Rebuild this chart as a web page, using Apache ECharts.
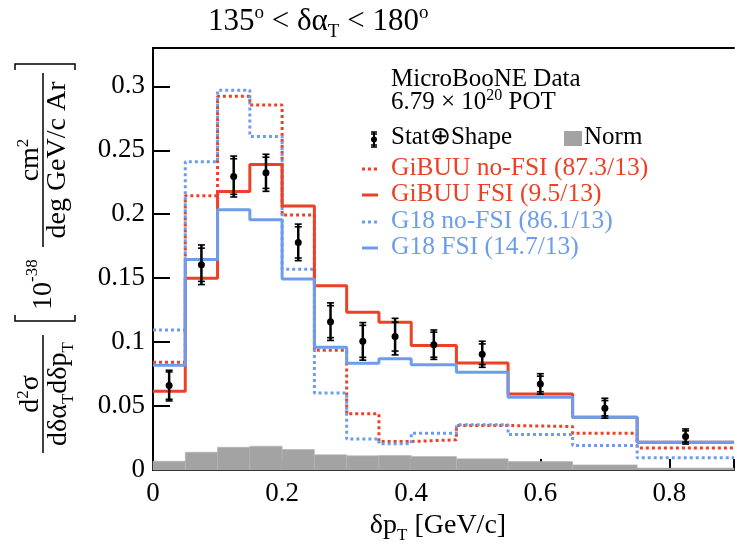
<!DOCTYPE html>
<html><head><meta charset="utf-8">
<script src="https://cdn.jsdelivr.net/npm/echarts@6/dist/echarts.min.js"></script>
<style>html,body{margin:0;padding:0;background:#fff}#c{width:737px;height:556px}</style>
</head><body><div id="c"></div>
<script>
// ---- data ----
const binEdges = [0, 0.05, 0.1, 0.15, 0.2, 0.25, 0.3, 0.35, 0.4, 0.47, 0.55, 0.65, 0.75, 0.9];
const dataY    = [0.066, 0.1605, 0.2295, 0.2324, 0.178, 0.116, 0.1006, 0.1043, 0.098, 0.0905, 0.0673, 0.0483, 0.0262];
const errOuter = [0.012, 0.0155, 0.016, 0.0145, 0.0143, 0.0147, 0.0147, 0.0143, 0.0115, 0.0102, 0.008, 0.0078, 0.0059];
const errInner = [0.0107, 0.013, 0.0139, 0.0122, 0.0122, 0.0125, 0.0125, 0.0113, 0.0098, 0.0081, 0.0061, 0.006, 0.0044];
const gibuuNoFSI = [0.0842, 0.2145, 0.2923, 0.2855, 0.1994, 0.0936, 0.0439, 0.0223, 0.0236, 0.0348, 0.034, 0.0288, 0.0173];
const gibuuFSI   = [0.0616, 0.150, 0.2178, 0.2389, 0.2065, 0.1441, 0.1233, 0.1155, 0.0973, 0.0837, 0.0595, 0.0413, 0.0217];
const g18NoFSI   = [0.1095, 0.241, 0.297, 0.2608, 0.157, 0.0603, 0.0242, 0.0205, 0.0288, 0.0353, 0.0277, 0.0191, 0.0095];
const g18FSI     = [0.0819, 0.1647, 0.2035, 0.1957, 0.1494, 0.096, 0.0834, 0.0869, 0.0824, 0.0764, 0.0569, 0.0413, 0.0217];
const normUnc    = [0.0069, 0.0139, 0.0178, 0.0186, 0.016, 0.0119, 0.0111, 0.0113, 0.0105, 0.0087, 0.0066, 0.004, 0.0015];
const xTicks = [0, 0.2, 0.4, 0.6, 0.8];
const yTicks = [0, 0.05, 0.1, 0.15, 0.2, 0.25, 0.3];
const legendLabels = ['GiBUU no-FSI (87.3/13)', 'GiBUU FSI (9.5/13)', 'G18 no-FSI (86.1/13)', 'G18 FSI (14.7/13)'];

const RED = '#ec4125', BLUE = '#6c9ded', GRAY = '#a3a3a3';
const FONT = "'Liberation Serif','Times New Roman',serif";
const mctx = document.createElement('canvas').getContext('2d');
function tw(s, size) { mctx.font = size + 'px ' + FONT; return mctx.measureText(s).width; }
// parts: [text, size, baselineShift]
function textRun(parts, x, base, color, align) {
  const total = parts.reduce((a, p) => a + tw(p[0], p[1]), 0);
  let cx = align === 'center' ? x - total / 2 : (align === 'right' ? x - total : x);
  const els = [];
  for (const p of parts) {
    els.push({ type: 'text', x: cx, y: base + (p[2] || 0) - 0.3375 * p[1], silent: true,
      style: { text: p[0], fontSize: p[1], fontFamily: FONT, fill: color, align: 'left', verticalAlign: 'middle' } });
    cx += tw(p[0], p[1]);
  }
  return els;
}

function stepData(vals) {
  return binEdges.map((e, i) => [e, vals[Math.min(i, vals.length - 1)]]);
}
function histSeries(vals, color, dotted) {
  return { type: 'line', step: 'end', data: stepData(vals), showSymbol: false, symbol: 'none', z: 3,
    lineStyle: { color: color, width: 3, type: dotted ? [3, 3] : 'solid' }, silent: true };
}

const centers = dataY.map((v, i) => (binEdges[i] + binEdges[i + 1]) / 2);

const chart = echarts.init(document.getElementById('c'), null, { renderer: 'canvas' });

const G = [];
G.push(...textRun([['135', 31, 0], ['o', 19, -13], [' < δα', 31, 0], ['T', 19, 6], [' < 180', 31, 0], ['o', 19, -13]], 208, 32, '#000', 'left'));
G.push(...textRun([['δp', 28, 0], ['T', 17, 6], [' [GeV/c]', 28, 0]], 438, 535, '#000', 'center'));
G.push(...textRun([['MicroBooNE Data', 25, 0]], 391, 88, '#000', 'left'));
G.push(...textRun([['6.79 × 10', 25, 0], ['20', 16, -10], [' POT', 25, 0]], 391, 111, '#000', 'left'));
G.push(...textRun([['Stat⊕Shape', 25, 0]], 391, 146, '#000', 'left'));
G.push(...textRun([['Norm', 25, 0]], 584, 146, '#000', 'left'));
G.push({ type: 'rect', shape: { x: 564, y: 131, width: 18, height: 15 }, style: { fill: GRAY }, silent: true });
G.push({ type: 'line', shape: { x1: 374, y1: 132, x2: 374, y2: 147 }, style: { stroke: '#000', lineWidth: 2 }, silent: true });
[132, 134, 145, 147].forEach(y => G.push({ type: 'line', shape: { x1: 371, y1: y, x2: 377, y2: y }, style: { stroke: '#000', lineWidth: 1.5 }, silent: true }));
G.push({ type: 'circle', shape: { cx: 374, cy: 139.5, r: 3 }, style: { fill: '#000' }, silent: true });
const legBase = [177, 203, 230, 256];
const legCol = [RED, RED, BLUE, BLUE];
const legDot = [true, false, true, false];
legendLabels.forEach((t, i) => {
  G.push(...textRun([[t, 25.5, 0]], 391, legBase[i], legCol[i], 'left'));
  G.push({ type: 'line', shape: { x1: 362, y1: legBase[i] - 8, x2: 378, y2: legBase[i] - 8 }, silent: true,
    style: { stroke: legCol[i], lineWidth: 3, lineDash: legDot[i] ? [3, 3] : null } });
});

// rotated y-axis title
const yt = [];
yt.push(...textRun([['d', 28, 0], ['2', 17, -11], ['σ', 28, 0]], 59, -3, '#000', 'center'));
yt.push(...textRun([['dδα', 28, 0], ['T', 17, 6], ['dδp', 28, 0], ['T', 17, 6]], 59, 25, '#000', 'center'));
yt.push({ type: 'line', shape: { x1: 0, y1: 0, x2: 118, y2: 0 }, style: { stroke: '#000', lineWidth: 1.5 } });
yt.push({ type: 'polyline', shape: { points: [[138, -28], [132, -28], [132, 32], [138, 32]] }, style: { stroke: '#000', lineWidth: 1.5, fill: null } });
yt.push(...textRun([['10', 28, 0], ['-38', 17, -15]], 143, 10, '#000', 'left'));
yt.push(...textRun([['cm', 28, 0], ['2', 17, -11]], 293, -3, '#000', 'center'));
yt.push(...textRun([['deg GeV/c Ar', 28, 0]], 293, 24, '#000', 'center'));
yt.push({ type: 'line', shape: { x1: 206, y1: 0, x2: 380, y2: 0 }, style: { stroke: '#000', lineWidth: 1.5 } });
yt.push({ type: 'polyline', shape: { points: [[383, -28], [389, -28], [389, 32], [383, 32]] }, style: { stroke: '#000', lineWidth: 1.5, fill: null } });
G.push({ type: 'group', x: 43, y: 453, rotation: Math.PI / 2, silent: true, children: yt });

const near = (v, arr) => arr.some(t => Math.abs(t - v) < 1e-6);

chart.setOption({
  animation: false,
  backgroundColor: '#fff',
  grid: { left: 153, top: 48, bottom: 86, right: -11 },
  xAxis: [{
    type: 'value', min: 0, max: 0.9, interval: 0.2,
    axisLine: { lineStyle: { color: '#000', width: 2 } },
    axisTick: { inside: true, length: 11, lineStyle: { color: '#000', width: 2 } },
    axisLabel: { fontSize: 27, fontFamily: FONT, color: '#000', margin: 10,
      formatter: v => near(v, xTicks) ? String(+v.toFixed(2)) : '' },
    splitLine: { show: false }
  }, {
    type: 'value', min: 0, max: 0.9, position: 'top',
    axisLine: { show: true, lineStyle: { color: '#000', width: 2 } },
    axisTick: { show: false }, axisLabel: { show: false }, splitLine: { show: false }
  }],
  yAxis: {
    type: 'value', min: 0, max: 0.33, interval: 0.05,
    axisLine: { show: true, lineStyle: { color: '#000', width: 2 } },
    axisTick: { inside: true, length: 17, lineStyle: { color: '#000', width: 2 } },
    axisLabel: { fontSize: 27, fontFamily: FONT, color: '#000', margin: 8,
      formatter: v => near(v, yTicks) ? String(+v.toFixed(2)) : '' },
    splitLine: { show: false }
  },
  graphic: G,
  series: [
    { type: 'custom', z: 1, silent: true,
      data: normUnc.map((v, i) => [binEdges[i], binEdges[i + 1], v]),
      encode: { x: [0, 1], y: 2 },
      renderItem: (params, api) => {
        const p0 = api.coord([api.value(0), api.value(2)]);
        const p1 = api.coord([api.value(1), 0]);
        return { type: 'rect', shape: { x: p0[0], y: p0[1], width: p1[0] - p0[0], height: p1[1] - p0[1] },
          style: { fill: GRAY, stroke: '#b4b4b4', lineWidth: 0.6 } };
      } },
    histSeries(gibuuNoFSI, RED, true),
    histSeries(g18NoFSI, BLUE, true),
    histSeries(gibuuFSI, RED, false),
    histSeries(g18FSI, BLUE, false),
    { type: 'custom', z: 5, silent: true,
      data: dataY.map((v, i) => [centers[i], v, errOuter[i], errInner[i]]),
      encode: { x: 0, y: 1 },
      renderItem: (params, api) => {
        const x = api.value(0), y = api.value(1), eo = api.value(2), ei = api.value(3);
        const c = api.coord([x, y]);
        const top = api.coord([x, y + eo])[1], bot = api.coord([x, y - eo])[1];
        const itop = api.coord([x, y + ei])[1], ibot = api.coord([x, y - ei])[1];
        const ch = [];
        ch.push({ type: 'line', shape: { x1: c[0], y1: top, x2: c[0], y2: bot }, style: { stroke: '#000', lineWidth: 2.5 } });
        [top, bot, itop, ibot].forEach(yy => ch.push({ type: 'line', shape: { x1: c[0] - 3.5, y1: yy, x2: c[0] + 3.5, y2: yy }, style: { stroke: '#000', lineWidth: 1.6 } }));
        ch.push({ type: 'circle', shape: { cx: c[0], cy: c[1], r: 3.5 }, style: { fill: '#000' } });
        return { type: 'group', children: ch };
      } }
  ]
});
</script>
</body></html>
